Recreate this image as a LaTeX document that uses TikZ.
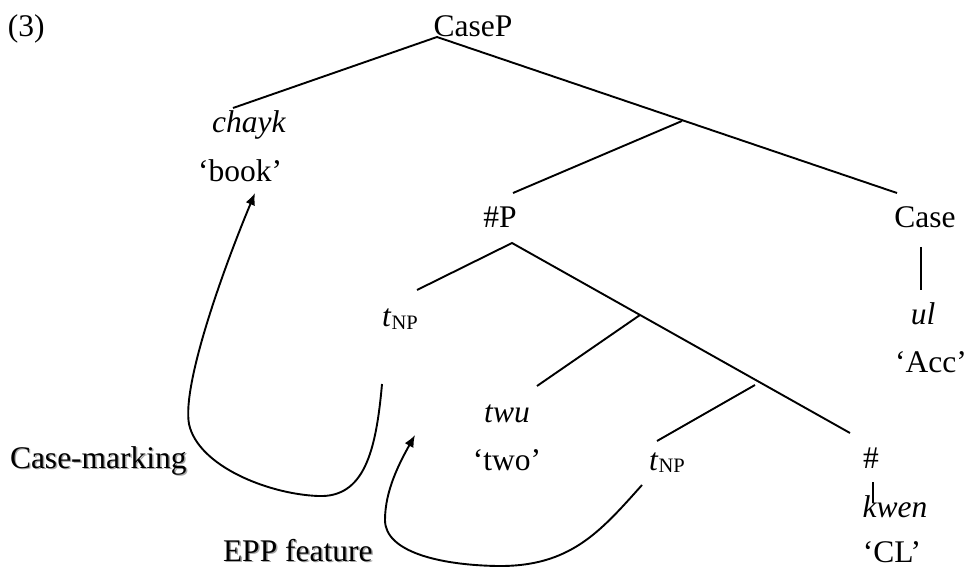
\documentclass[tikz,border=0pt]{standalone}
\usepackage{fontspec}
\setmainfont{Liberation Serif}
\usetikzlibrary{arrows.meta}

\newcommand{\subNP}{\raisebox{-2.5pt}{\fontsize{20.5}{21}\selectfont NP}}

\begin{document}
\begin{tikzpicture}[x=1pt,y=-1pt,
  every node/.style={inner sep=0pt,outer sep=0pt,font=\fontsize{31.5}{37}\selectfont},
  lbl/.style={anchor=base},
  lblw/.style={anchor=base west},
  branch/.style={line width=1.9pt},
  move/.style={line width=1.9pt,-{Latex[length=12pt,width=10pt]}},
  shadowtext/.style={anchor=base west,text=black!35}]

\useasboundingbox (0,0) rectangle (967,569);

% ---- labels of the tree ----
\node[lblw] (num)   at (8,37)    {(3)};
\node[lbl]  (casep) at (473,37)  {CaseP};
\node[lbl]  (chayk) at (249,133) {\textit{chayk}};
\node[lbl]  (book)  at (240,182) {`book'};
\node[lbl]  (numP)  at (500,228) {\#P};
\node[lbl]  (case)  at (925,228) {Case};
\node[lbl]  (tnpA)  at (400,327) {\textit{t}\subNP};
\node[lbl]  (ul)    at (923,325) {\textit{ul}};
\node[lbl]  (acc)   at (931,373) {`Acc'};
\node[lbl]  (twu)   at (507,422) {\textit{twu}};
\node[lbl]  (two)   at (507,470) {`two'};
\node[lbl]  (tnpB)  at (667,470) {\textit{t}\subNP};
\node[lbl]  (hash)  at (871,468) {\#};
\node[lbl]  (kwen)  at (895,517) {\textit{kwen}};
\node[lbl]  (cl)    at (892,562) {`CL'};

% movement labels with a soft offset shadow
\node[shadowtext] (cmShadow)  at (11.5,469.5) {Case-marking};
\node[lblw]       (cm)        at (10,468)     {Case-marking};
\node[shadowtext] (eppShadow) at (224.5,562.5) {EPP feature};
\node[lblw]       (epp)       at (223,561)     {EPP feature};

% ---- branch points ----
\coordinate (rootTop)  at (437,37);
\coordinate (chaykTop) at (233,108);
\coordinate (barA)     at (682,121);
\coordinate (numPTop)  at (513,193);
\coordinate (caseTop)  at (897,193);
\coordinate (caseBot)  at (921,247);
\coordinate (ulTop)    at (921,290);
\coordinate (numPBot)  at (512,243);
\coordinate (tnpATop)  at (417,290);
\coordinate (barB)     at (640,315);
\coordinate (twuTop)   at (537,386);
\coordinate (barC)     at (755,385);
\coordinate (tnpBTop)  at (657,441);
\coordinate (hashTop)  at (850,433);
\coordinate (hashBot)  at (873,482);
\coordinate (kwenTop)  at (873,503);

% ---- tree branches ----
\draw[branch] (chaykTop) -- (rootTop) -- (caseTop);
\draw[branch] (barA) -- (numPTop);
\draw[branch] (caseBot) -- (ulTop);
\draw[branch] (tnpATop) -- (numPBot) -- (hashTop);
\draw[branch] (barB) -- (twuTop);
\draw[branch] (barC) -- (tnpBTop);
\draw[branch] (hashBot) -- (kwenTop);

% ---- movement arrows ----
\coordinate (cmStart) at (382,384);
\coordinate (cmEnd)   at (255,193);
\draw[move] (cmStart)
  .. controls (376,452) and (364,498) .. (318,496)
  .. controls (268,494) and (198,466) .. (189,424)
  .. controls (182,385) and (222,272) .. (cmEnd);

\coordinate (eppStart) at (642,485);
\coordinate (eppEnd)   at (415,435);
\draw[move] (eppStart)
  .. controls (600,532) and (570,567) .. (497,566)
  .. controls (440,565) and (385,552) .. (385,520)
  .. controls (385,490) and (400,462) .. (eppEnd);

\end{tikzpicture}
\end{document}
